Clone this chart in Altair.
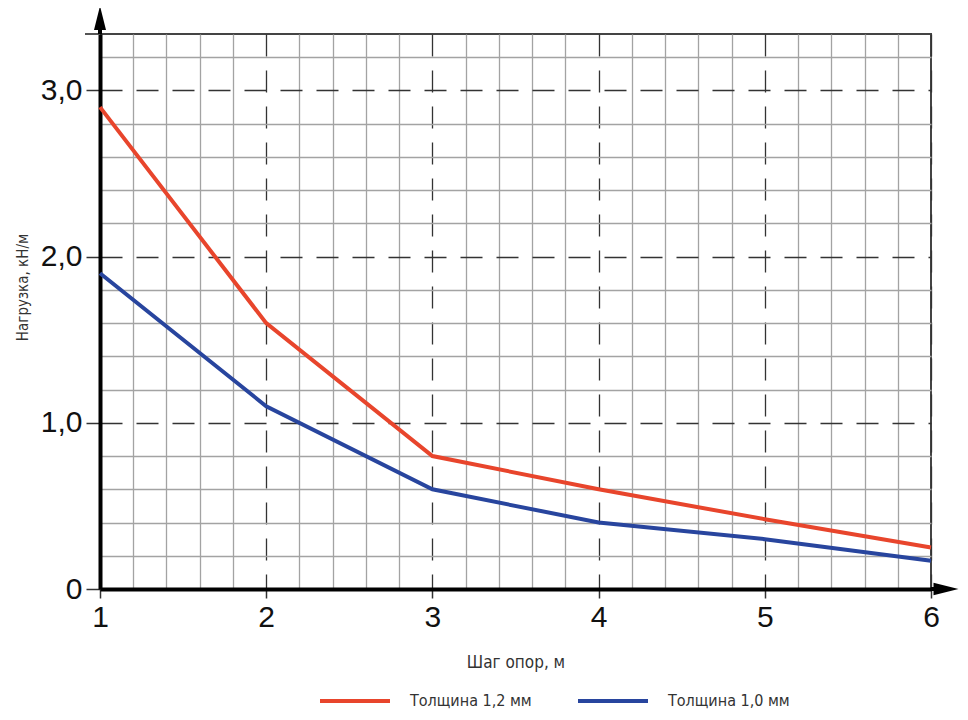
import altair as alt
import pandas as pd

# ---- data ----
spans = [1, 2, 3, 4, 5, 6]
load_12 = [2.90, 1.60, 0.80, 0.60, 0.42, 0.25]
load_10 = [1.90, 1.10, 0.60, 0.40, 0.30, 0.17]
series_names = ["Толщина 1,2 мм", "Толщина 1,0 мм"]
series_colors = ["#e8452c", "#28459e"]
x_ticks = [round(1 + 0.2 * i, 1) for i in range(26)]
y_ticks = [round(0.2 * i, 1) for i in range(17)]

df = pd.DataFrame({
    "span": spans * 2,
    "load": load_12 + load_10,
    "series": [series_names[0]] * len(spans) + [series_names[1]] * len(spans),
})
one = pd.DataFrame({"a": [0]})

W, H = 831, 555
is_int = "abs(datum.value - round(datum.value)) < 0.001"
LBL_FONT = "Liberation Sans"
TXT_FONT = "Liberation Sans Narrow, DejaVu Sans Condensed, sans-serif"


def cond(t, f):
    return {"condition": {"test": is_int, "value": t}, "value": f}


x_axis = alt.Axis(
    values=x_ticks,
    labelExpr=f"{is_int} ? format(datum.value, 'd') : ''",
    labelOverlap=False, labelFlush=False,
    labelFont=LBL_FONT, labelFontSize=30, labelColor="#111", labelPadding=4,
    tickSize=9, tickWidth=1.5, tickColor="#333", tickOpacity=cond(1, 0),
    domainColor="black", domainWidth=4,
    grid=True, gridColor=cond("#333333", "#a3a3a3"), gridDash=cond([22, 14], []),
    gridWidth=1.3,
    title="Шаг опор, м", titleFont=TXT_FONT, titleFontSize=17,
    titleFontWeight="normal", titleColor="#333", titlePadding=22,
)
y_axis = alt.Axis(
    values=y_ticks,
    labelExpr=f"{is_int} ? (datum.value == 0 ? '0' : replace(format(datum.value, '.1f'), '.', ',')) : ''",
    labelOverlap=False, labelFlush=False,
    labelFont=LBL_FONT, labelFontSize=30, labelColor="#111", labelPadding=4,
    tickSize=14, tickWidth=1.5, tickColor="#333", tickOpacity=cond(1, 0),
    domainColor="black", domainWidth=4,
    grid=True, gridColor=cond("#333333", "#a3a3a3"), gridDash=cond([22, 14], []),
    gridWidth=1.3,
    title="Нагрузка, кН/м", titleFont=TXT_FONT, titleFontSize=15,
    titleFontWeight="normal", titleColor="#333",
    titleX=-78, titleY=253, titleBaseline="middle",
)

lines = alt.Chart(df).mark_line(strokeWidth=4).encode(
    x=alt.X("span:Q", scale=alt.Scale(domain=[1, 6], nice=False), axis=x_axis),
    y=alt.Y("load:Q", scale=alt.Scale(domain=[0, 3.34], nice=False), axis=y_axis),
    color=alt.Color(
        "series:N",
        scale=alt.Scale(domain=series_names, range=series_colors),
        legend=alt.Legend(
            orient="none", legendX=218, legendY=630, direction="horizontal",
            title=None, symbolType="stroke", symbolSize=4900, symbolStrokeWidth=4,
            labelFont=TXT_FONT, labelFontSize=16, labelColor="#333",
            labelOffset=18, columnPadding=38, labelLimit=300,
        ),
    ),
)

# axis arrows (decoration)
y_shaft = alt.Chart(one).mark_rule(color="black", strokeWidth=4).encode(
    x=alt.value(0), y=alt.value(0), y2=alt.value(-8))
y_head = alt.Chart(one).mark_point(
    shape="M0,-1L0.5,1L-0.5,1Z", filled=True, color="black", opacity=1, size=576
).encode(x=alt.value(0), y=alt.value(-16))
x_shaft = alt.Chart(one).mark_rule(color="black", strokeWidth=4).encode(
    x=alt.value(W), x2=alt.value(W + 6), y=alt.value(H))
x_head = alt.Chart(one).mark_point(
    shape="M1,0L-1,-0.5L-1,0.5Z", filled=True, color="black", opacity=1, size=625
).encode(x=alt.value(W + 15), y=alt.value(H))
top_ext = alt.Chart(one).mark_rule(color="#555", strokeWidth=2).encode(
    x=alt.value(-15), x2=alt.value(0), y=alt.value(0))

chart = alt.layer(lines, top_ext, y_shaft, y_head, x_shaft, x_head).properties(
    width=W, height=H,
    autosize=alt.AutoSizeParams(type="none"),
    padding={"left": 92, "top": 26, "right": 29, "bottom": 123},
).configure_view(stroke="#444", strokeWidth=2)

chart.save("out.html", embed_options={"renderer": "svg", "actions": False})
